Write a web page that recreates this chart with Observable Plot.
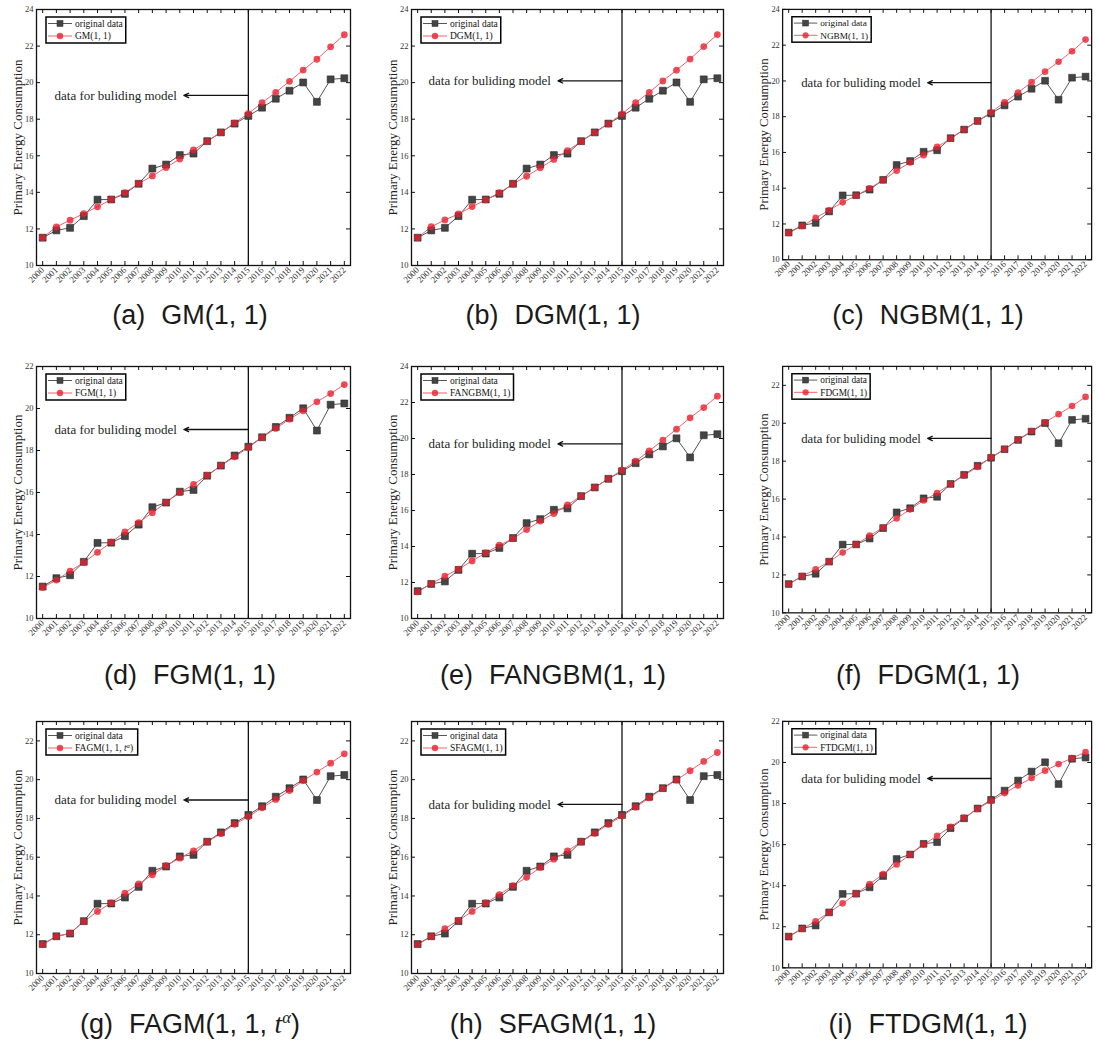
<!DOCTYPE html>
<html><head><meta charset="utf-8">
<script src="https://cdn.jsdelivr.net/npm/d3@7"></script>
<script src="https://cdn.jsdelivr.net/npm/@observablehq/plot@0.6"></script>
<style>
html,body{margin:0;padding:0;background:#fff;overflow:hidden}
#root{position:relative;width:1097px;height:1043px;overflow:hidden;background:#fff}
.panel{position:absolute}
.caption{position:absolute;font-family:"Liberation Sans",Arial,sans-serif;font-size:27px;color:#1a1a1a;white-space:nowrap;transform:translate(-50%,-50%);line-height:1}
.caption i{font-family:"Liberation Serif","Times New Roman",serif}
.caption sup{font-family:"Liberation Serif","Times New Roman",serif;font-style:italic;font-size:0.62em}
</style></head><body><div id="root"></div><script>
// ---------- data ----------
const years = [2000,2001,2002,2003,2004,2005,2006,2007,2008,2009,2010,2011,2012,2013,2014,2015,2016,2017,2018,2019,2020,2021,2022];
const originalData = [11.52,11.92,12.06,12.70,13.60,13.61,13.92,14.47,15.30,15.52,16.04,16.12,16.80,17.28,17.76,18.18,18.63,19.12,19.56,20.01,18.95,20.18,20.24];
const gmFit     = [11.52,12.11,12.48,12.84,13.21,13.61,13.98,14.48,14.90,15.36,15.82,16.32,16.79,17.28,17.79,18.31,18.90,19.47,20.07,20.69,21.28,21.96,22.62];
const dgmFit    = [11.52,12.12,12.49,12.82,13.22,13.59,13.98,14.46,14.88,15.34,15.80,16.28,16.78,17.27,17.75,18.29,18.90,19.47,20.09,20.68,21.29,21.97,22.63];
const ngbmFit   = [11.50,11.88,12.34,12.77,13.21,13.58,14.00,14.45,14.98,15.44,15.85,16.31,16.77,17.27,17.75,18.25,18.80,19.35,19.93,20.52,21.07,21.66,22.31];
const fgmFit    = [11.48,11.83,12.26,12.67,13.15,13.63,14.12,14.57,15.04,15.53,15.99,16.38,16.82,17.28,17.70,18.14,18.62,19.05,19.49,19.89,20.32,20.71,21.14];
const fangbmFit = [11.48,11.94,12.35,12.74,13.20,13.65,14.07,14.44,14.94,15.41,15.83,16.31,16.80,17.28,17.76,18.24,18.74,19.31,19.91,20.52,21.15,21.72,22.35];
const fdgmFit   = [11.51,11.94,12.29,12.70,13.18,13.61,14.07,14.50,14.98,15.46,15.93,16.32,16.79,17.25,17.70,18.20,18.64,19.14,19.59,20.05,20.48,20.91,21.39];
const fagmFit   = [11.49,11.91,12.08,12.68,13.20,13.64,14.14,14.62,15.09,15.56,15.95,16.33,16.79,17.22,17.70,18.09,18.55,18.98,19.44,19.95,20.39,20.85,21.33];
const sfagmFit  = [11.49,11.91,12.31,12.74,13.20,13.64,14.07,14.53,14.96,15.47,15.90,16.32,16.79,17.23,17.69,18.12,18.58,19.06,19.54,19.98,20.46,20.94,21.40];
const ftdgmFit  = [11.51,11.90,12.27,12.70,13.14,13.60,14.08,14.56,15.03,15.51,16.00,16.43,16.87,17.30,17.74,18.13,18.51,18.88,19.24,19.60,19.92,20.21,20.51];
const fits = [gmFit, dgmFit, ngbmFit, fgmFit, fangbmFit, fdgmFit, fagmFit, sfagmFit, ftdgmFit];
const modelNames = ["GM(1, 1)","DGM(1, 1)","NGBM(1, 1)","FGM(1, 1)","FANGBM(1, 1)","FDGM(1, 1)","FAGM(1, 1, t^α)","SFAGM(1, 1)","FTDGM(1, 1)"];
const panelLetters = ["a","b","c","d","e","f","g","h","i"];
const yMaxes = [24,24,24,22,24,23,23,23,22];
const yTickValues = [10,12,14,16,18,20,22,24];
const annotY = [19.3,20.1,19.9,19.0,19.7,19.2,18.95,18.72,19.22];
const splitYear = 2015;
const annotText = "data for buliding model";
const yLabel = "Primary Energy Consumption";
const legendOriginal = "original data";

// ---------- layout ----------
const colLeft = [36, 411, 783];
const colW = [314, 312, 316];
const rowTop = [9, 366, 721];
const rowH = [256, 252, 252];
const capX = [190, 553, 928];
const capY = [315, 675, 1024];
const mL = 40, mT = 4, mR = 6, mB = 36;
const SERIF = "'Liberation Serif','Times New Roman',serif";
const RED = "#e8202f", REDLINE = "#f0606c", GRAY = "#444", GRAYLINE = "#555";

const root = document.getElementById("root");
const ctx = document.createElement("canvas").getContext("2d");
ctx.font = "9.5px " + SERIF;

function addLegend(svg, i) {
  const s = d3.select(svg);
  const name = modelNames[i];
  const w = 30 + Math.max(ctx.measureText(legendOriginal).width, ctx.measureText(name.replace("^α","α")).width) + 2;
  const g = s.append("g").attr("transform", `translate(${mL + 10},${mT + 8})`).attr("text-anchor", "start");
  g.append("rect").attr("width", w).attr("height", 26).attr("fill", "#fff").attr("stroke", "#000").attr("stroke-width", 1.5);
  g.append("line").attr("x1", 2).attr("x2", 26).attr("y1", 6.5).attr("y2", 6.5).attr("stroke", GRAYLINE);
  g.append("rect").attr("x", 11).attr("y", 3.5).attr("width", 6).attr("height", 6).attr("fill", GRAY).attr("stroke", "#2a2a2a").attr("stroke-width", 0.5);
  g.append("text").attr("x", 29).attr("y", 6.5).attr("dy", "0.35em").attr("text-anchor", "start").attr("font-family", SERIF).attr("font-size", 9.5).attr("fill", "#111").text(legendOriginal);
  g.append("line").attr("x1", 2).attr("x2", 26).attr("y1", 19).attr("y2", 19).attr("stroke", REDLINE);
  g.append("circle").attr("cx", 14).attr("cy", 19).attr("r", 3.2).attr("fill", RED).attr("fill-opacity", 0.8);
  const t = g.append("text").attr("x", 29).attr("y", 19).attr("dy", "0.35em").attr("text-anchor", "start").attr("font-family", SERIF).attr("font-size", 9.5).attr("fill", "#111");
  if (name.includes("^")) {
    const [base, sup] = name.split("^");
    t.append("tspan").text(base.replace(/t$/, ""));
    t.append("tspan").attr("font-style", "italic").text("t");
    t.append("tspan").attr("font-size", 6.5).attr("dy", "-0.45em").attr("font-style", "italic").text(sup.replace(")", ""));
    t.append("tspan").attr("dy", "0.3em").text(")");
  } else {
    t.text(name);
  }
}

for (let i = 0; i < 9; i++) {
  const col = i % 3, row = Math.floor(i / 3);
  const pw = colW[col], ph = rowH[row];
  const yMax = yMaxes[i];
  const yt = yTickValues.filter(v => v <= yMax);
  const orig = years.map((y, k) => ({year: y, value: originalData[k]}));
  const fit = years.map((y, k) => ({year: y, value: fits[i][k]}));
  const svg = Plot.plot({
    width: mL + pw + mR, height: mT + ph + mB,
    marginLeft: mL, marginTop: mT, marginRight: mR, marginBottom: mB,
    style: {fontFamily: SERIF, background: "transparent", overflow: "visible", color: "#222"},
    x: {domain: [1999.55, 2022.45]},
    y: {domain: [10, yMax]},
    marks: [
      Plot.axisX({ticks: years, tickFormat: d => String(d), tickRotate: -45, tickSize: 0, tickPadding: 3, fontSize: 9, label: null, fill: "#333"}),
      Plot.axisY({ticks: yt, tickSize: 0, tickPadding: 3, fontSize: 8.5, label: null, fill: "#333"}),
      Plot.ruleX(years, {x: d => d, insetTop: ph - 4, stroke: "#111"}),
      Plot.ruleX(years, {x: d => d, insetBottom: ph - 4, stroke: "#111"}),
      Plot.ruleY(yt, {y: d => d, insetRight: pw - 4, stroke: "#111"}),
      Plot.ruleY(yt, {y: d => d, insetLeft: pw - 4, stroke: "#111"}),
      Plot.ruleX([splitYear], {x: d => d, stroke: "#111", strokeWidth: 1.3}),
      Plot.arrow([annotY[i]], {x1: splitYear, x2: 2010.3, y1: d => d, y2: d => d, stroke: "#111", strokeWidth: 1.3, headLength: 6, headAngle: 50}),
      Plot.text([annotY[i]], {x: 2010.3, y: d => d, text: () => annotText, textAnchor: "end", dx: -7, fontSize: 13, fill: "#1c2626"}),
      Plot.line(orig, {x: "year", y: "value", stroke: GRAYLINE, strokeWidth: 1}),
      Plot.line(fit, {x: "year", y: "value", stroke: REDLINE, strokeWidth: 1}),
      Plot.dot(orig, {x: "year", y: "value", symbol: "square", r: 3.9, fill: GRAY, stroke: "#2a2a2a", strokeWidth: 0.6}),
      Plot.dot(fit, {x: "year", y: "value", r: 3.4, fill: RED, fillOpacity: 0.8, stroke: "none"}),
      Plot.frame({stroke: "#111", strokeWidth: 1.3}),
      Plot.text([yLabel], {frameAnchor: "left", textAnchor: "middle", rotate: -90, dx: -19, fontSize: 13, fill: "#222", text: d => d})
    ]
  });
  addLegend(svg, i);
  const wrap = document.createElement("div");
  wrap.className = "panel";
  wrap.style.left = (colLeft[col] - mL) + "px";
  wrap.style.top = (rowTop[row] - mT) + "px";
  wrap.appendChild(svg);
  root.appendChild(wrap);

  const cap = document.createElement("div");
  cap.className = "caption";
  cap.style.left = capX[col] + "px";
  cap.style.top = capY[row] + "px";
  const name = modelNames[i];
  let html = name;
  if (name.includes("^")) {
    const [base, sup] = name.split("^");
    html = base.replace(/t$/, "") + "<i>t</i><sup>" + sup.replace(")", "") + "</sup>)";
  }
  cap.innerHTML = `<span>(${panelLetters[i]})</span><span style="margin-left:16px">${html}</span>`;
  root.appendChild(cap);
}
</script></body></html>
